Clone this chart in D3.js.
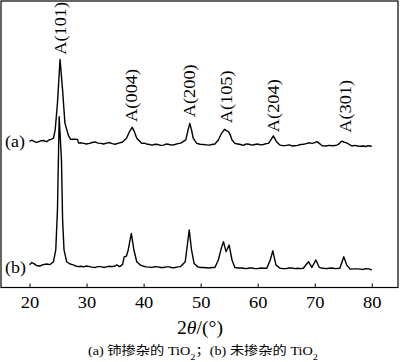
<!DOCTYPE html>
<html><head><meta charset="utf-8">
<script src="https://cdn.jsdelivr.net/npm/d3@7/dist/d3.min.js"></script>
<style>html,body{margin:0;padding:0;background:#fff;}svg{display:block;}</style>
</head><body><svg id="c" width="400" height="362"></svg>
<script>
// 2θ (degrees) and intensities (a.u.) for the two diffraction patterns
const thetaA = [20.0,20.4,20.7,21.1,21.5,22.0,22.5,23.0,23.4,23.8,24.2,24.5,24.9,25.35,25.8,26.2,26.8,27.2,27.8,28.4,28.6,29.0,29.5,30.0,30.5,31.0,31.5,32.0,32.5,33.0,33.5,34.0,34.5,35.0,35.5,36.3,37.0,37.5,38.0,38.4,38.8,39.7,40.1,40.5,41.0,41.5,42.0,42.5,43.0,43.5,44.0,44.5,45.0,45.5,46.0,46.5,47.4,47.8,48.1,48.4,48.7,49.3,49.9,50.5,51.0,51.5,52.0,52.5,53.1,53.6,54.2,54.6,54.9,55.2,55.5,56.0,56.5,57.0,57.5,58.0,58.5,59.0,59.5,60.0,60.5,61.0,61.5,61.9,62.4,62.75,63.3,63.9,64.5,65.0,65.5,66.0,66.5,67.0,67.5,68.0,68.5,68.9,69.3,69.6,70.0,70.4,70.8,71.3,71.9,72.5,73.2,73.9,74.3,74.7,75.2,75.6,76.0,76.5,77.0,77.5,78.0,78.5,79.0,79.3,79.7,80.0];
const intensA = [510,514,511,507,508,512,513,509,515,517,521,550,644,796,689,574,532,517,518,517,504,505,503,501,503,506,508,504,503,501,504,506,502,500,503,508,521,543,559,543,521,503,504,501,499,497,500,499,496,497,501,499,497,499,502,504,515,550,573,550,521,503,500,499,498,497,499,501,515,536,552,547,544,532,515,503,501,499,496,501,500,497,499,501,498,499,502,503,518,529,509,497,495,496,498,494,495,496,499,500,502,505,504,503,506,509,503,495,494,496,495,497,502,511,507,505,500,494,496,494,493,494,492,495,494,493,491];
const thetaB = [20.0,20.4,20.7,21.2,21.8,22.4,23.0,23.6,24.2,24.6,24.9,25.2,25.6,25.8,26.05,26.5,27.1,27.7,28.1,28.5,29.0,29.5,30.0,30.5,31.0,31.5,32.0,32.5,33.0,33.5,34.0,34.5,35.0,35.3,35.8,36.3,36.6,37.0,37.3,37.85,38.3,38.8,39.4,40.0,40.5,41.0,41.5,42.0,42.5,43.0,43.5,44.0,44.5,45.0,45.5,46.0,46.5,47.3,48.0,48.4,48.85,49.5,50.0,50.5,51.0,51.5,52.0,52.5,53.1,53.6,54.0,54.45,55.0,55.5,56.0,56.5,57.0,57.5,58.0,58.5,59.0,59.5,60.0,60.5,61.0,61.6,62.2,62.65,63.2,63.9,64.5,65.0,65.5,66.0,66.5,67.0,67.5,68.0,68.9,69.5,70.2,70.8,71.4,72.0,72.5,73.0,73.7,74.4,75.1,75.6,76.2,76.8,77.5,78.0,78.5,79.0,79.5,80.0];
const intensB = [79,87,84,77,75,80,82,80,90,131,271,596,445,236,131,90,82,79,75,73,74,72,75,73,71,70,73,73,70,72,74,73,75,79,73,80,107,110,131,189,131,90,79,74,72,71,70,73,72,70,70,72,72,69,70,72,73,90,201,131,84,72,70,70,69,68,70,70,96,135,160,125,148,96,70,68,68,67,66,68,68,66,66,68,67,67,96,128,79,67,66,66,68,68,66,67,66,67,90,70,96,70,67,66,67,68,66,67,107,79,64,65,65,64,63,66,65,61];
const seriesLabels = ["(a)", "(b)"];
const seriesLabelY = [510, 70];          // label vertical position in a.u.
const peakLabels = ["A(101)","A(004)","A(200)","A(105)","A(204)","A(301)"];
const peakTheta  = [25.4, 37.9, 48.1, 54.5, 62.75, 75.3];
const peakLabelBase = [812, 578, 594, 573, 542, 540]; // a.u. where label starts
const xTicks = [20,30,40,50,60,70,80];

const svg = d3.select("#c");
const x = d3.scaleLinear().domain([15, 84.6]).range([1, 398]);
const y = d3.scaleLinear().domain([0, 1000]).range([287.5, 1]);
const serif = "'Liberation Serif','Times New Roman',serif";

// frame
svg.append("rect").attr("x", x(15)).attr("y", y(1000)).attr("width", x(84.6)-x(15)).attr("height", y(0)-y(1000))
  .attr("fill","none").attr("stroke","#000").attr("stroke-width",1.2);

// x axis (inward ticks)
const axis = d3.axisBottom(x).tickValues(xTicks).tickSizeInner(-4).tickSizeOuter(0).tickPadding(0).tickFormat("");
const gAx = svg.append("g").attr("transform", `translate(0,${y(0)})`).call(axis);
gAx.select(".domain").remove();
gAx.selectAll(".tick line").attr("stroke","#000").attr("stroke-width",1);
gAx.selectAll(".tick").append("text")
  .attr("transform","translate(0,20.5) scale(1.15,1)")
  .attr("text-anchor","middle").attr("fill","#000")
  .style("font-family", serif).style("font-size","16px")
  .text(d => d);

// curves
const line = d3.line().x(d => x(d[0])).y(d => y(d[1]));
const dataA = d3.zip(thetaA, intensA);
const dataB = d3.zip(thetaB, intensB);
[dataA, dataB].forEach(d => {
  svg.append("path").datum(d).attr("d", line).attr("fill","none")
    .attr("stroke","#000").attr("stroke-width",1.4).attr("stroke-linejoin","round");
});

// series labels
seriesLabels.forEach((s,i) => {
  svg.append("text").attr("transform", `translate(${x(15)+4},${y(seriesLabelY[i])}) scale(1.12,1)`)
    .attr("dy","0.35em").attr("fill","#000")
    .style("font-family", serif).style("font-size","16px").text(s);
});

// peak labels
peakLabels.forEach((s,i) => {
  svg.append("text").attr("transform", `translate(${x(peakTheta[i])},${y(peakLabelBase[i])}) rotate(-90)`)
    .attr("dy","0.35em").attr("fill","#000").attr("textLength", 53).attr("lengthAdjust","spacingAndGlyphs")
    .style("font-family", serif).style("font-size","16px").text(s);
});

// axis title
const t = svg.append("text").attr("x", 200).attr("y", 334).attr("text-anchor","middle")
  .attr("fill","#000").attr("textLength", 46).attr("lengthAdjust","spacingAndGlyphs")
  .style("font-family", serif).style("font-size","18px");
t.append("tspan").text("2");
t.append("tspan").style("font-style","italic").text("θ");
t.append("tspan").text("/(°)");

// caption
const cap = svg.append("text").attr("x", 88).attr("y", 354.5).attr("fill","#000")
  .attr("textLength", 230).attr("lengthAdjust","spacingAndGlyphs")
  .style("font-family", "'Liberation Serif','Noto Sans CJK SC',serif").style("font-size","12.5px");
cap.append("tspan").text("(a)  铈掺杂的 TiO");
cap.append("tspan").attr("baseline-shift","sub").style("font-size","9px").text("2");
cap.append("tspan").text("；(b)  未掺杂的 TiO");
cap.append("tspan").attr("baseline-shift","sub").style("font-size","9px").text("2");
</script></body></html>
